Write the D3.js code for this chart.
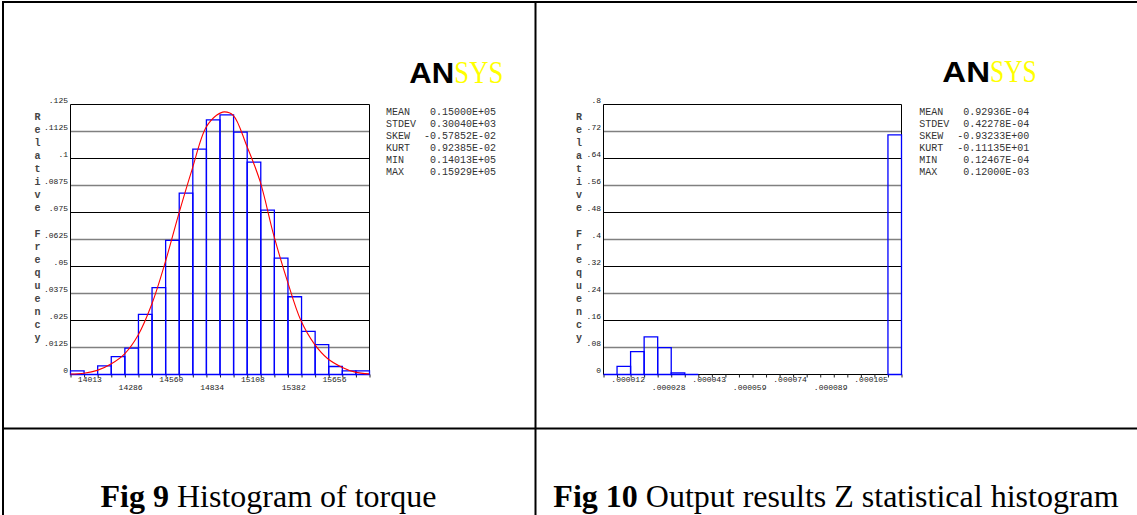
<!DOCTYPE html>
<html>
<head>
<meta charset="utf-8">
<script src="https://cdn.jsdelivr.net/npm/d3@7/dist/d3.min.js"></script>
<style>
  body { margin: 0; background: #fff; }
  svg { display: block; }
</style>
</head>
<body>
<div id="chart"></div>
<script>
// Fig 9 - torque, 22 bins, relative frequency
const torqueLo = 13886.5;
const torqueBinW = 91.25;
const torqueBins = [0.0017, 0, 0.0040, 0.0083, 0.0122, 0.0278, 0.0402, 0.0621, 0.0840, 0.1043, 0.1179,
  0.1202, 0.1122, 0.0983, 0.0761, 0.0539, 0.0360, 0.0200, 0.0138, 0.0037, 0.0017, 0.0017];
const torqueCurveX = [13886, 13977, 14066, 14161, 14250, 14340, 14434, 14524, 14614, 14703, 14795, 14867,
  14919, 14979, 15069, 15159, 15251, 15340, 15432, 15522, 15614, 15708, 15798, 15892];
const torqueCurveY = [0.0002, 0.0006, 0.0019, 0.0050, 0.0096, 0.0182, 0.0329, 0.0523, 0.0745, 0.0950, 0.1142, 0.1200,
  0.1216, 0.1200, 0.1060, 0.0895, 0.0645, 0.0438, 0.0252, 0.0143, 0.0073, 0.0034, 0.0011, 0.0003];
const torqueXTicks = [14013, 14286.7, 14560.4, 14834.1, 15107.9, 15381.6, 15655.3];
const torqueXLabels = ['14013', '14286', '14560', '14834', '15108', '15382', '15656'];
const torqueYTicks = [0, 0.0125, 0.025, 0.0375, 0.05, 0.0625, 0.075, 0.0875, 0.1, 0.1125, 0.125];
const torqueStats = ['0.15000E+05', '0.30040E+03', '-0.57852E-02', '0.92385E-02', '0.14013E+05', '0.15929E+05'];

// Fig 10 - output Z (null = bin not drawn)
const zLo = 3.30e-6;
const zBinW = 5.139e-6;
const zBins = [0, 0.0243, 0.0675, 0.1115, 0.0795, 0.0050, 0,
  null, null, null, null, null, null, null, null, null, null, null, null, null, null, 0.7102];
const zXTicks = [0.000012467, 0.00002783, 0.00004319, 0.00005855, 0.00007391, 0.00008928, 0.00010464];
const zXLabels = ['.000012', '.000028', '.000043', '.000059', '.000074', '.000089', '.000105'];
const zYTicks = [0, 0.08, 0.16, 0.24, 0.32, 0.4, 0.48, 0.56, 0.64, 0.72, 0.8];
const zStats = ['0.92936E-04', '0.42278E-04', '-0.93233E+00', '-0.11135E+01', '0.12467E-04', '0.12000E-03'];

const statNames = ['MEAN', 'STDEV', 'SKEW', 'KURT', 'MIN', 'MAX'];
const yTitle = 'Relative Frequency';
const captions = [
  { bold: 'Fig 9', rest: ' Histogram of torque' },
  { bold: 'Fig 10', rest: ' Output results Z statistical histogram' }
];

const W = 1137, H = 515;
const mono = '"Liberation Mono", "DejaVu Sans Mono", monospace';
const plotTop = 104.5, plotBottom = 374.5;

const svg = d3.select('div#chart').append('svg')
  .attr('width', W)
  .attr('height', H);

function drawHistogram(cfg) {
  const g = svg.append('g');
  const n = cfg.bins.length;
  const x = d3.scaleLinear()
    .domain([cfg.lo, cfg.lo + n * cfg.binW])
    .range([cfg.left, cfg.right]);
  const y = d3.scaleLinear()
    .domain([0, d3.max(cfg.yTicks)])
    .range([plotBottom, plotTop]);

  // grid: odd rows grey and heavier
  g.selectAll('line.grid')
    .data(cfg.yTicks.slice(1))
    .enter().append('line')
    .attr('x1', cfg.left).attr('x2', cfg.right)
    .attr('y1', d => y(d)).attr('y2', d => y(d))
    .attr('stroke', (d, i) => i % 2 === 0 ? '#808080' : '#000')
    .attr('stroke-width', (d, i) => i % 2 === 0 ? 1.6 : 1);

  g.append('line')
    .attr('x1', cfg.left).attr('x2', cfg.left)
    .attr('y1', plotTop).attr('y2', plotBottom)
    .attr('stroke', '#000');
  g.append('line')
    .attr('x1', cfg.right).attr('x2', cfg.right)
    .attr('y1', plotTop).attr('y2', plotBottom)
    .attr('stroke', '#000');
  g.append('line')
    .attr('x1', cfg.left).attr('x2', cfg.right)
    .attr('y1', plotBottom).attr('y2', plotBottom)
    .attr('stroke', '#000');

  // small ticks at every bin edge
  const edges = d3.range(n + 1).map(i => cfg.lo + i * cfg.binW);
  g.append('g')
    .attr('transform', `translate(0, ${plotBottom})`)
    .call(d3.axisBottom(x).tickValues(edges).tickSize(3).tickFormat(''))
    .call(a => a.select('.domain').remove())
    .call(a => a.selectAll('line').attr('stroke', '#222'));

  const labelAxis = g.append('g')
    .attr('transform', `translate(0, ${plotBottom})`)
    .call(d3.axisBottom(x).tickValues(cfg.xTicks).tickSize(0)
      .tickFormat((d, i) => cfg.xLabels[i]));
  labelAxis.select('.domain').remove();
  labelAxis.selectAll('text')
    .attr('dy', null)
    .attr('y', (d, i) => i % 2 === 0 ? 7.5 : 15)
    .attr('font-family', mono)
    .attr('font-size', 8)
    .attr('fill', '#222');

  const yAxis = g.append('g')
    .attr('transform', `translate(${cfg.left}, 0)`)
    .call(d3.axisLeft(y).tickValues(cfg.yTicks).tickSize(0).tickPadding(2.5)
      .tickFormat(d => d === 0 ? '0' : String(d).replace(/^0\./, '.')));
  yAxis.select('.domain').remove();
  yAxis.selectAll('text')
    .attr('dy', -2)
    .attr('font-family', mono)
    .attr('font-size', 8)
    .attr('fill', '#222');

  // bars as open outlines so that empty bins still show on the baseline
  const bars = cfg.bins.map((v, i) => ({ i, v })).filter(d => d.v !== null);
  g.selectAll('path.bar')
    .data(bars)
    .enter().append('path')
    .attr('class', 'bar')
    .attr('d', d => {
      const x0 = x(cfg.lo + d.i * cfg.binW), x1 = x(cfg.lo + (d.i + 1) * cfg.binW);
      return `M${x0},${y(0)}V${y(d.v)}H${x1}V${y(0)}Z`;
    })
    .attr('fill', 'none')
    .attr('stroke', '#0000ff')
    .attr('stroke-width', 1.3);

  if (cfg.curveX) {
    const pts = cfg.curveX.map((v, i) => [v, cfg.curveY[i]]);
    g.append('path')
      .datum(pts)
      .attr('d', d3.line().x(d => x(d[0])).y(d => y(d[1])).curve(d3.curveCatmullRom))
      .attr('fill', 'none')
      .attr('stroke', '#ff0000')
      .attr('stroke-width', 1.1);
  }

  g.selectAll('text.ytitle')
    .data(yTitle.split(''))
    .enter().append('text')
    .attr('x', cfg.titleX)
    .attr('y', (d, i) => 116 + i * 13)
    .attr('dy', '0.35em')
    .attr('text-anchor', 'middle')
    .attr('font-family', mono)
    .attr('font-weight', 'bold')
    .attr('font-size', 10)
    .attr('fill', '#444')
    .text(d => d);

  const st = g.append('g').attr('font-family', mono).attr('font-size', 10).attr('fill', '#333');
  st.selectAll('text.name')
    .data(statNames)
    .enter().append('text')
    .attr('x', cfg.statX)
    .attr('y', (d, i) => 114.5 + i * 12)
    .text(d => d);
  st.selectAll('text.val')
    .data(cfg.stats)
    .enter().append('text')
    .attr('x', cfg.statEnd)
    .attr('y', (d, i) => 114.5 + i * 12)
    .attr('text-anchor', 'end')
    .text(d => d);

  const logo = g.append('text')
    .attr('y', cfg.logo.y)
    .attr('font-size', 30);
  logo.append('tspan')
    .attr('x', cfg.logo.anX)
    .attr('textLength', cfg.logo.anW)
    .attr('lengthAdjust', 'spacingAndGlyphs')
    .attr('font-family', '"Liberation Sans", Arial, sans-serif')
    .attr('font-weight', 900)
    .attr('fill', '#000')
    .text('AN');
  logo.append('tspan')
    .attr('x', cfg.logo.sysX)
    .attr('textLength', cfg.logo.sysW)
    .attr('lengthAdjust', 'spacingAndGlyphs')
    .attr('font-family', '"Liberation Serif", "Times New Roman", serif')
    .attr('font-size', 32)
    .attr('fill', '#ffff00')
    .text('SYS');
}

drawHistogram({
  bins: torqueBins, lo: torqueLo, binW: torqueBinW,
  left: 70.5, right: 369.5,
  xTicks: torqueXTicks, xLabels: torqueXLabels, yTicks: torqueYTicks,
  curveX: torqueCurveX, curveY: torqueCurveY,
  titleX: 37.5, statX: 386, statEnd: 496, stats: torqueStats,
  logo: { y: 83.3, anX: 409.3, anW: 45, sysX: 454.3, sysW: 49 }
});

drawHistogram({
  bins: zBins, lo: zLo, binW: zBinW,
  left: 603.5, right: 901.5,
  xTicks: zXTicks, xLabels: zXLabels, yTicks: zYTicks,
  titleX: 579, statX: 919.3, statEnd: 1029.3, stats: zStats,
  logo: { y: 82.3, anX: 942.3, anW: 47.7, sysX: 990, sysW: 46.7 }
});

// table frame around the two figures
const frame = svg.append('g').attr('stroke', '#000').attr('stroke-width', 2);
frame.append('line').attr('x1', 2).attr('x2', W).attr('y1', 2).attr('y2', 2);
frame.append('line').attr('x1', 3).attr('x2', 3).attr('y1', 1).attr('y2', H);
frame.append('line').attr('x1', 535.5).attr('x2', 535.5).attr('y1', 1).attr('y2', H);
frame.append('line').attr('x1', 2).attr('x2', W).attr('y1', 428.5).attr('y2', 428.5);

const capX = [268.5, 836];
svg.selectAll('text.caption')
  .data(captions)
  .enter().append('text')
  .attr('class', 'caption')
  .attr('x', (d, i) => capX[i])
  .attr('y', 507)
  .attr('text-anchor', 'middle')
  .attr('font-family', '"Liberation Serif", "Times New Roman", serif')
  .attr('font-size', 32)
  .attr('fill', '#000')
  .each(function(d) {
    const t = d3.select(this);
    t.append('tspan').attr('font-weight', 'bold').text(d.bold);
    t.append('tspan').text(d.rest);
  });
</script>
</body>
</html>
